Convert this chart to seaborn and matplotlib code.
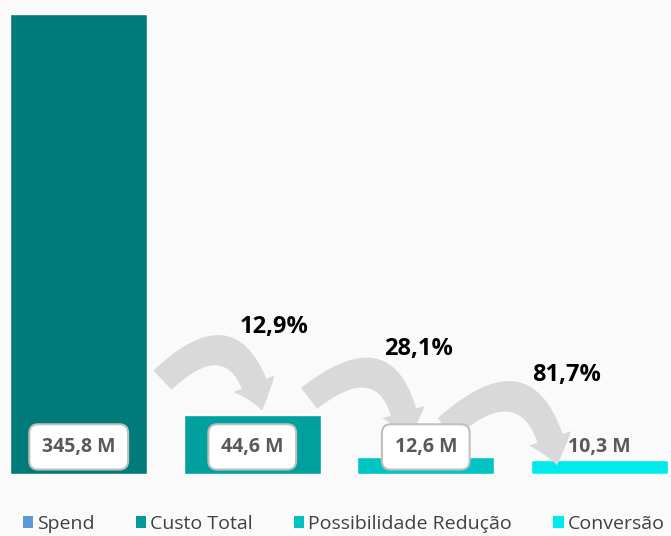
import matplotlib
matplotlib.use("Agg")
import matplotlib.pyplot as plt
import seaborn as sns
import pandas as pd
from matplotlib.patches import FancyArrowPatch, Patch

# dados do funil
categorias = ["Spend", "Custo Total", "Possibilidade Redução", "Conversão"]
valores = [345.8, 44.6, 12.6, 10.3]
percentuais = ["12,9%", "28,1%", "81,7%"]

cores_barras = ["#007B79", "#00A09F", "#00C3C3", "#00EAEC"]
cores_legenda = ["#5B9BD5", "#009A99", "#00C2C2", "#00E9EB"]

sns.set_theme(style="white")
plt.rcParams["font.family"] = ["Open Sans", "DejaVu Sans"]

df = pd.DataFrame({"categoria": categorias, "valor": valores})

fig = plt.figure(figsize=(6.71, 5.36), dpi=100, facecolor="#FAFAFA")
ax = fig.add_axes([0, 62 / 536, 1, 460 / 536])
ax.set_facecolor("#FAFAFA")

sns.barplot(data=df, x="categoria", y="valor", hue="categoria", palette=cores_barras,
            legend=False, width=0.79, ax=ax, saturation=1)
ax.set_xlim(-78.5 / 173, 3 + 71.5 / 173)
ax.set_ylim(0, max(valores))
ax.set_axis_off()

# setas curvas entre as barras
setas = [((160, 382), (262, 413)), ((306, 400), (408, 442)), ((443, 430), (556, 468))]
def px2data(p):
    return ((p[0] - 78.5) / 173, (474 - p[1]) * max(valores) / 460)

for ini, fim in setas:
    seta = FancyArrowPatch(px2data(ini), px2data(fim),
                           connectionstyle="arc3,rad=-0.9",
                           arrowstyle="simple,tail_width=0.95,head_width=1.6,head_length=1.0",
                           mutation_scale=20, color="#D9D9D9", lw=0, zorder=3)
    ax.add_patch(seta)

# rotulos de valor
for i, v in enumerate(valores):
    borda = "#BFBFBF" if i < 3 else "none"
    face = "white" if i < 3 else "none"
    ax.annotate(f"{v:.1f}".replace(".", ",") + " M", (i, 0), xytext=(0, 19.5),
                textcoords="offset points", ha="center", va="center",
                fontsize=14, fontweight="bold", color="#595959", zorder=4,
                bbox=dict(boxstyle="round,pad=0.65,rounding_size=0.45", fc=face, ec=borda, lw=1.5))

# percentuais de conversao
pos_pct = [(273, 327), (417, 349), (565, 375)]
for txt, p in zip(percentuais, pos_pct):
    ax.text(*px2data(p), txt, ha="center", va="center", fontsize=17,
            fontweight="bold", color="black", zorder=5)

handles = [Patch(facecolor=c, edgecolor="none", label=l) for c, l in zip(cores_legenda, categorias)]
fig.legend(handles=handles, loc="center", bbox_to_anchor=(0.512, 12 / 536), ncol=4,
           frameon=False, fontsize=14, handlelength=0.55, handleheight=0.55,
           handletextpad=0.2, columnspacing=2.1, labelcolor="#404040")

fig.savefig("out.png", dpi=100, facecolor=fig.get_facecolor())
